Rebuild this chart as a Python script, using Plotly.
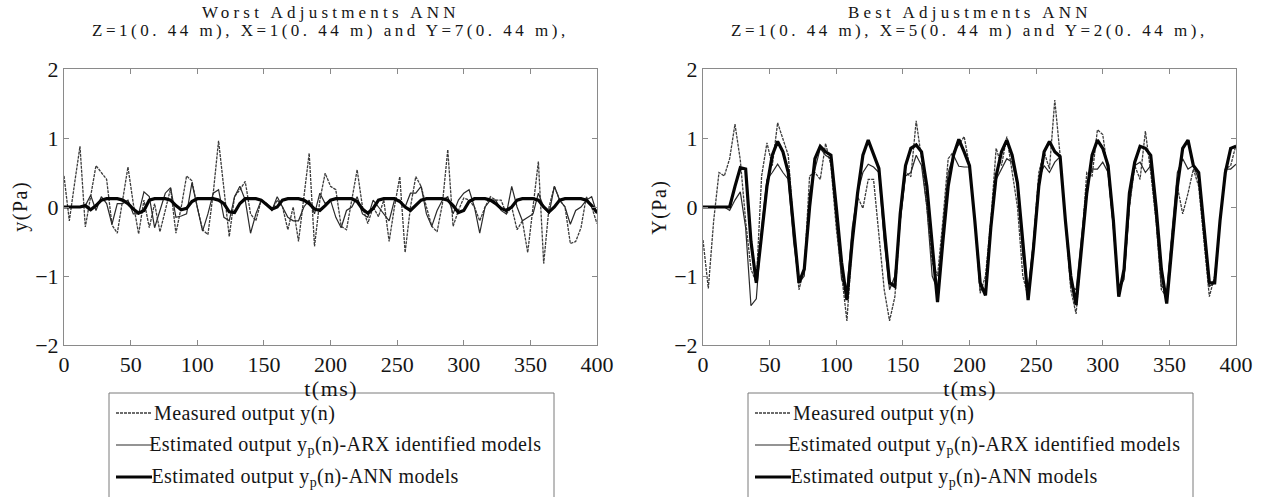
import plotly.graph_objects as go

# ---------------- data ----------------
T_MS = list(range(0, 401, 4))  # sampling instants (ms)

# Left panel: worst adjustments
MEAS_L = [0.45, -0.20, 0.35, 0.88, -0.29, 0.15, 0.60, 0.50, 0.40, -0.26,
          -0.38, 0.10, 0.58, 0.05, -0.39, 0.10, -0.30, 0.05, -0.36, -0.05,
          0.27, -0.38, 0.00, 0.45, 0.38, 0.00, -0.33, -0.40, 0.20, 0.96,
          0.30, -0.43, 0.15, 0.25, 0.37, -0.10, -0.20, 0.10, 0.05, -0.05,
          0.10, 0.00, -0.33, 0.00, -0.50, 0.10, 0.78, -0.57, 0.10, 0.49,
          0.30, 0.25, -0.28, -0.33, 0.10, 0.54, 0.00, -0.24, 0.00, -0.14,
          0.10, -0.50, 0.00, 0.44, -0.66, 0.00, 0.44, 0.30, 0.00, -0.28,
          -0.36, 0.05, 0.83, -0.28, -0.05, 0.13, 0.10, 0.00, -0.20, 0.00,
          0.15, 0.10, 0.10, -0.10, 0.00, -0.33, -0.20, -0.66, 0.00, 0.66,
          -0.82, 0.00, 0.30, 0.10, 0.00, -0.53, -0.50, -0.30, 0.15, 0.00,
          -0.24]
ARX_L = [0, 0, 0, 0, 0.02, 0.17, -0.05, 0.15, 0.05, -0.25,
         0.05, 0.05, 0.10, -0.10, -0.10, 0.22, 0.15, -0.30, -0.05, 0.20,
         0.28, -0.15, -0.13, -0.10, 0.35, 0.00, -0.35, -0.10, 0.20, 0.25,
         -0.15, -0.20, 0.15, 0.30, 0.10, -0.38, -0.10, 0.10, 0.05, -0.05,
         0.15, 0.00, -0.15, -0.20, -0.20, 0.00, 0.10, -0.10, 0.20, 0.05,
         0.10, -0.15, -0.30, -0.05, 0.00, 0.15, -0.10, -0.15, 0.10, 0.00,
         -0.10, -0.20, 0.10, 0.10, 0.00, 0.20, 0.20, 0.30, -0.10, -0.28,
         -0.05, 0.10, 0.15, -0.10, 0.10, 0.20, 0.25, 0.00, -0.38, 0.00,
         0.10, 0.10, -0.05, -0.10, 0.30, 0.00, -0.20, -0.15, -0.10, 0.20,
         0.00, -0.10, 0.30, 0.10, 0.00, -0.25, -0.05, 0.00, 0.10, 0.15,
         -0.10]
ANN_L = [0, 0, 0, 0, 0.02, -0.04, 0.02, 0.10, 0.12, 0.12,
         0.12, 0.10, 0.05, -0.03, -0.09, -0.05, 0.10, 0.12, 0.12, 0.12,
         0.10, 0.02, -0.04, -0.02, 0.08, 0.12, 0.12, 0.12, 0.12, 0.10,
         0.05, -0.07, -0.08, 0.05, 0.12, 0.12, 0.12, 0.10, 0.03, -0.03,
         0.00, 0.10, 0.12, 0.12, 0.12, 0.10, 0.05, -0.03, -0.05, 0.02,
         0.10, 0.12, 0.12, 0.12, 0.12, 0.08, -0.03, -0.09, -0.02, 0.10,
         0.12, 0.12, 0.12, 0.08, 0.00, -0.05, 0.02, 0.10, 0.12, 0.12,
         0.12, 0.12, 0.10, 0.02, -0.08, -0.05, 0.08, 0.12, 0.12, 0.12,
         0.10, 0.05, -0.02, -0.05, 0.00, 0.10, 0.12, 0.12, 0.12, 0.10,
         0.00, -0.07, 0.00, 0.10, 0.12, 0.12, 0.12, 0.12, 0.10, 0.02,
         -0.08]

# Right panel: best adjustments
MEAS_R = [-0.48, -1.18, -0.20, 0.50, 0.45, 0.70, 1.20, 0.68, -0.20, -0.90,
          -1.10, 0.45, 0.93, 0.60, 1.22, 1.00, 0.75, -0.30, -1.20, -0.90,
          0.45, 0.50, 0.40, 0.92, 0.60, -0.30, -1.00, -1.65, -0.50, 0.15,
          -0.02, 0.40, 0.40, -0.40, -1.20, -1.65, -1.30, -0.20, 0.50, 0.44,
          1.25, 0.70, 0.00, -0.80, -1.00, -0.20, 0.70, 0.80, 0.90, 1.02,
          0.60, -0.20, -1.25, -1.00, -0.20, 0.85, 0.60, 1.02, 0.50, 0.00,
          -1.00, -1.30, -0.50, 0.50, 0.80, 0.55, 1.55, 0.75, -0.20, -1.20,
          -1.55, -0.60, 0.50, 0.45, 1.12, 1.05, 0.50, -0.30, -1.25, -1.00,
          0.00, 0.60, 0.40, 1.10, 0.50, -0.20, -1.20, -1.30, -0.40, 0.30,
          -0.10, 0.20, 0.55, 0.30, -0.50, -1.30, -1.00, -0.20, 0.55, 0.60,
          0.90]
ARX_R = [0, 0, 0, 0, 0, -0.05, 0.10, 0.22, -0.30, -1.43,
         -1.33, -0.30, 0.40, 0.50, 0.62, 0.50, 0.40, -0.50, -1.10, -1.00,
         0.20, 0.55, 0.85, 0.75, 0.70, -0.20, -1.05, -1.20, -0.30, 0.20,
         0.50, 0.62, 0.58, 0.50, -0.50, -1.20, -1.00, -0.20, 0.45, 0.50,
         0.75, 0.60, 0.00, -1.00, -1.20, -0.30, 0.50, 0.75, 0.59, 0.58,
         0.58, -0.20, -1.20, -1.20, -0.30, 0.40, 0.55, 0.70, 0.65, 0.30,
         -0.70, -1.20, -0.50, 0.40, 0.60, 0.50, 0.65, 0.73, -0.20, -1.15,
         -1.20, -0.40, 0.30, 0.55, 0.55, 0.65, 0.50, -0.30, -1.20, -1.05,
         0.00, 0.60, 0.65, 0.50, 0.60, -0.20, -1.15, -1.20, -0.30, 0.50,
         0.70, 0.55, 0.60, 0.40, -0.40, -1.15, -1.10, -0.20, 0.55, 0.55,
         0.62]
ANN_R = [0, 0, 0, 0, 0, 0.00, 0.30, 0.57, 0.55, -0.50,
         -1.10, -0.40, 0.30, 0.75, 0.95, 0.80, 0.50, -0.30, -1.10, -0.90,
         0.00, 0.70, 0.88, 0.80, 0.75, 0.00, -0.80, -1.35, -0.50, 0.20,
         0.75, 0.97, 0.75, 0.56, -0.30, -1.10, -1.15, -0.10, 0.60, 0.85,
         0.90, 0.80, 0.30, -0.50, -1.38, -0.50, 0.30, 0.75, 0.98, 0.80,
         0.60, -0.20, -1.10, -1.28, -0.30, 0.45, 0.80, 0.97, 0.75, 0.35,
         -0.50, -1.35, -0.60, 0.30, 0.80, 0.95, 0.80, 0.73, -0.20, -1.00,
         -1.42, -0.60, 0.20, 0.75, 0.97, 0.85, 0.60, -0.20, -1.30, -0.90,
         0.20, 0.65, 0.88, 0.85, 0.75, 0.00, -0.90, -1.40, -0.50, 0.30,
         0.85, 0.97, 0.60, 0.50, -0.30, -1.10, -1.10, -0.20, 0.50, 0.85,
         0.88]

X_TICKS = [0, 50, 100, 150, 200, 250, 300, 350, 400]
Y_TICKS = [-2, -1, 0, 1, 2]
Y_TICK_TEXT = ["\u22122", "\u22121", "0", "1", "2"]

SERIES_NAMES = ["Measured output y(n)",
                "Estimated output y<sub>p</sub>(n)-ARX identified models",
                "Estimated output y<sub>p</sub>(n)-ANN models"]

TITLES_L = ["Worst Adjustments ANN", "Z=1(0. 44 m), X=1(0. 44 m) and Y=7(0. 44 m),"]
TITLES_R = ["Best Adjustments ANN", "Z=1(0. 44 m), X=5(0. 44 m) and Y=2(0. 44 m),"]
Y_LABELS = ["y(Pa)", "Y(Pa)"]
X_LABEL = "t(ms)"

# ---------------- figure ----------------
W, H = 1263, 497
FONT = "Liberation Serif, Times New Roman, serif"
INK = "#151515"

fig = go.Figure()

styles = [dict(color="#3c3c3c", width=1.3, dash="3px,1px"),
          dict(color="#2a2a2a", width=1.2),
          dict(color="#050505", width=3.2)]

panels = [("x", "y", [MEAS_L, ARX_L, ANN_L]),
          ("x2", "y2", [MEAS_R, ARX_R, ANN_R])]
for xa, ya, series in panels:
    for i, (vals, name) in enumerate(zip(series, SERIES_NAMES)):
        fig.add_trace(go.Scatter(
            x=T_MS, y=vals, mode="lines", name=name,
            line=styles[i], xaxis=xa, yaxis=ya, showlegend=False,
        ))


def px_x(p):
    return p / W


def px_y(p):
    return 1 - p / H


axis_common = dict(
    showline=True, linecolor="#8a8a8a", linewidth=1, mirror="allticks",
    ticks="inside", ticklen=5, tickcolor="#8a8a8a", showgrid=False,
    zeroline=False, automargin=False,
    tickfont=dict(family=FONT, size=22, color=INK),
)

PLOT_LEFTS = [64, 703]
PLOT_W = 533
ydom = [px_y(345), px_y(69)]
fig.update_layout(
    width=W, height=H,
    margin=dict(l=0, r=0, t=0, b=0),
    paper_bgcolor="white", plot_bgcolor="white",
    font=dict(family=FONT, color=INK),
    showlegend=False,
    xaxis=dict(domain=[px_x(64), px_x(64 + PLOT_W)], range=[0, 400], tickvals=X_TICKS,
               anchor="y", **axis_common),
    yaxis=dict(domain=ydom, range=[-2, 2], tickvals=Y_TICKS, ticktext=Y_TICK_TEXT,
               anchor="x", **axis_common),
    xaxis2=dict(domain=[px_x(703), px_x(703 + PLOT_W)], range=[0, 400], tickvals=X_TICKS,
                anchor="y2", **axis_common),
    yaxis2=dict(domain=ydom, range=[-2, 2], tickvals=Y_TICKS, ticktext=Y_TICK_TEXT,
                anchor="x2", **axis_common),
)

annotations = []
shapes = []
ROW_Y = [413, 445, 477]
for k, (titles, ylab) in enumerate([(TITLES_L, Y_LABELS[0]), (TITLES_R, Y_LABELS[1])]):
    left = PLOT_LEFTS[k]
    cx = left + PLOT_W / 2
    annotations.append(dict(text=titles[0], x=px_x(cx), y=px_y(12), xref="paper", yref="paper",
                            showarrow=False, xanchor="center", yanchor="middle",
                            font=dict(family=FONT, size=17, color=INK)))
    annotations.append(dict(text=titles[1], x=px_x(cx), y=px_y(31), xref="paper", yref="paper",
                            showarrow=False, xanchor="center", yanchor="middle",
                            font=dict(family=FONT, size=17, color=INK)))
    annotations.append(dict(text=ylab, x=px_x(left - 43), y=px_y(207), xref="paper", yref="paper",
                            showarrow=False, xanchor="center", yanchor="middle", textangle=-90,
                            font=dict(family=FONT, size=20, color=INK)))
    annotations.append(dict(text=X_LABEL, x=px_x(cx), y=px_y(388), xref="paper", yref="paper",
                            showarrow=False, xanchor="center", yanchor="middle",
                            font=dict(family=FONT, size=22, color=INK)))
    # legend box (drawn by hand so it can sit exactly like the original)
    shapes.append(dict(type="rect", xref="paper", yref="paper",
                       x0=px_x(left + 45), x1=px_x(left + 490), y0=px_y(393), y1=px_y(505),
                       line=dict(color="#7a7a7a", width=1), fillcolor="white", layer="above"))
    for i, name in enumerate(SERIES_NAMES):
        shapes.append(dict(type="line", xref="paper", yref="paper",
                           x0=px_x(left + 52), x1=px_x(left + 88),
                           y0=px_y(ROW_Y[i]), y1=px_y(ROW_Y[i]),
                           line=styles[i], layer="above"))
        annotations.append(dict(text=name, x=px_x(left + 92), y=px_y(ROW_Y[i]),
                                xref="paper", yref="paper", showarrow=False,
                                xanchor="left", yanchor="middle",
                                font=dict(family=FONT, size=20, color=INK)))
fig.update_layout(annotations=annotations, shapes=shapes)

# page without the browser's default body margin; the original typesetting is
# letter-spaced, so widen the title and label lines accordingly
POST = """
document.body.style.margin = '0';
document.body.style.overflow = 'hidden';
document.querySelectorAll('.annotation-text').forEach(function(t){
  var s = t.textContent || '';
  if (s.indexOf('Adjustments') >= 0) { t.style.letterSpacing = '4.2px'; }
  else if (s.indexOf('Z=1') === 0) { t.style.letterSpacing = '3.5px'; }
  else if (s === 't(ms)' || s === 'y(Pa)' || s === 'Y(Pa)') { t.style.letterSpacing = '1.5px'; }
  else if (s.indexOf('Estimated') === 0 || s.indexOf('Measured') === 0) { t.style.letterSpacing = '0.4px'; }
});
"""
fig.write_html("out.html", post_script=POST, config={"displayModeBar": False})
